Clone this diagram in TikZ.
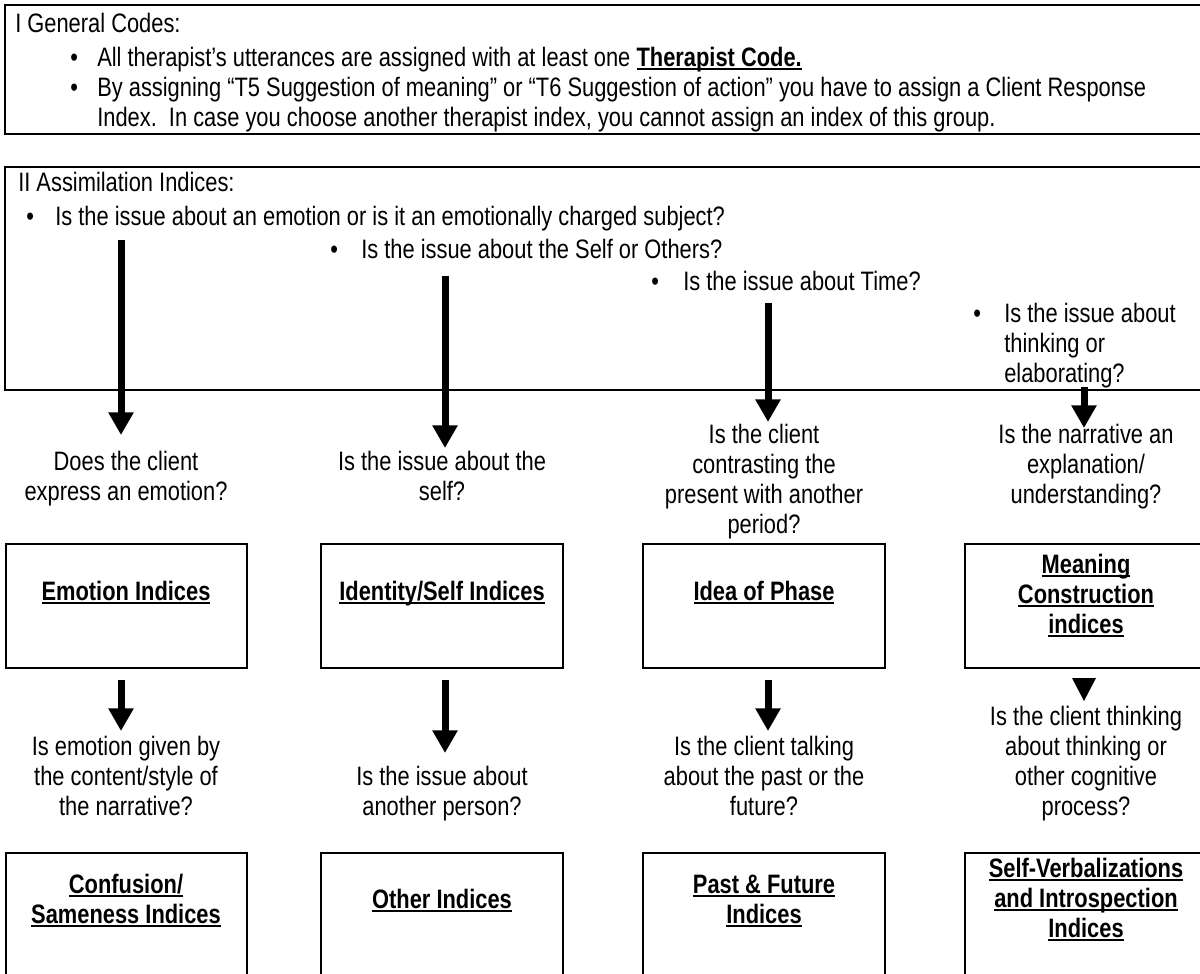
\documentclass[tikz,border=0pt]{standalone}
\usepackage{fontspec}
\setmainfont{Liberation Sans}[FakeStretch=0.82]
\usetikzlibrary{arrows.meta}
\newcommand\uln[1]{\setbox0\hbox{#1}\rlap{\rule[-3pt]{\wd0}{1.5pt}}\box0}
\newcommand\fl{\rule{0pt}{20pt}}
\tikzset{
  frame/.style={draw=black,line width=2pt},
  ibox/.style={draw=black,line width=2pt},
  qt/.style={anchor=north,align=center,inner sep=0pt,font=\fontsize{20pt}{22.5pt}\selectfont},
  lt/.style={anchor=north west,align=left,inner sep=0pt,font=\fontsize{20pt}{22.5pt}\selectfont},
  bt/.style={anchor=north,align=center,inner sep=0pt,font=\fontsize{20pt}{22.5pt}\selectfont\bfseries},
  bigarrow/.style={line width=5.25pt,-{Triangle[width=18pt,length=17pt]}},
  headonly/.style={fill=black}
}
\begin{document}
\begin{tikzpicture}[x=0.75pt,y=-0.75pt]
\useasboundingbox (0,0) rectangle (1200,974);
\clip (0,0) rectangle (1200,974);
% section I
\draw[frame] (5,5) rectangle (1215,134);
\node[lt] (gtitle) at (15,24-18.67) {\fl I General Codes:};
\node[lt] (gb1) at (70,58-18.67) {\fl\textbullet};
\node[lt] (gt1) at (97,58-18.67) {\fl All therapist’s utterances are assigned with at least one \uln{\textbf{Therapist Code.}}};
\node[lt] (gb2) at (70,88-18.67) {\fl\textbullet};
\node[lt] (gt2) at (97,88-18.67) {\fl By assigning “T5 Suggestion of meaning” or “T6 Suggestion of action” you have to assign a Client Response\\Index.\ \ In case you choose another therapist index, you cannot assign an index of this group.};
% section II
\draw[frame] (5,167) rectangle (1215,390);
\node[lt] (atitle) at (18,183-18.67) {\fl II Assimilation Indices:};
\node[lt] (ab1) at (26,217-18.67) {\fl\textbullet};
\node[lt] (at1) at (55,217-18.67) {\fl Is the issue about an emotion or is it an emotionally charged subject?};
\node[lt] (ab2) at (330,250-18.67) {\fl\textbullet};
\node[lt] (at2) at (361,250-18.67) {\fl Is the issue about the Self or Others?};
\node[lt] (ab3) at (651,282-18.67) {\fl\textbullet};
\node[lt] (at3) at (683,282-18.67) {\fl Is the issue about Time?};
\node[lt] (ab4) at (973,314-18.67) {\fl\textbullet};
\node[lt] (at4) at (1004,314-18.67) {\fl Is the issue about\\thinking or\\elaborating?};
% questions above the first row
\node[qt] (q1) at (126,462-18.67) {\fl Does the client\\express an emotion?};
\node[qt] (q2) at (442,462-18.67) {\fl Is the issue about the\\self?};
\node[qt] (q3) at (764,435-18.67) {\fl Is the client\\contrasting the\\present with another\\period?};
\node[qt] (q4) at (1086,435-18.67) {\fl Is the narrative an\\explanation/\\understanding?};
% first row of boxes
\draw[ibox] (6,544) rectangle (247,668);
\draw[ibox] (321,544) rectangle (563,668);
\draw[ibox] (643,544) rectangle (885,668);
\draw[ibox] (965,544) rectangle (1215,668);
\node[bt] (b1) at (126,592-18.67) {\fl\uln{Emotion Indices}};
\node[bt] (b2) at (442,592-18.67) {\fl\uln{Identity/Self Indices}};
\node[bt] (b3) at (764,592-18.67) {\fl\uln{Idea of Phase}};
\node[bt] (b4) at (1086,565-18.67) {\fl\uln{Meaning}\\\uln{Construction}\\\uln{indices}};
% questions below
\node[qt] (q5) at (126,747-18.67) {\fl Is emotion given by\\the content/style of\\the narrative?};
\node[qt] (q6) at (442,777-18.67) {\fl Is the issue about\\another person?};
\node[qt] (q7) at (764,747-18.67) {\fl Is the client talking\\about the past or the\\future?};
\node[qt] (q8) at (1086,717-18.67) {\fl Is the client thinking\\about thinking or\\other cognitive\\process?};
% second row of boxes
\draw[ibox] (6,853) rectangle (247,990);
\draw[ibox] (321,853) rectangle (563,990);
\draw[ibox] (643,853) rectangle (885,990);
\draw[ibox] (965,853) rectangle (1215,990);
\node[bt] (c1) at (126,885-18.67) {\fl\uln{Confusion/}\\\uln{Sameness Indices}};
\node[bt] (c2) at (442,900-18.67) {\fl\uln{Other Indices}};
\node[bt] (c3) at (764,885-18.67) {\fl\uln{Past \& Future}\\\uln{Indices}};
\node[bt] (c4) at (1086,869-18.67) {\fl\uln{Self-Verbalizations}\\\uln{and Introspection}\\\uln{Indices}};
% arrows
\coordinate (s1) at (121,240); \coordinate (e1) at (121,435);
\coordinate (s2) at (445,276); \coordinate (e2) at (445,448);
\coordinate (s3) at (768,303); \coordinate (e3) at (768,422);
\coordinate (s4) at (1084,387); \coordinate (e4) at (1084,428);
\draw[bigarrow] (s1) -- (e1);
\draw[bigarrow] (s2) -- (e2);
\draw[bigarrow] (s3) -- (e3);
\draw[bigarrow] (s4) -- (e4);
\coordinate (s5) at (121,680); \coordinate (e5) at (121,731);
\coordinate (s6) at (445,680); \coordinate (e6) at (445,753);
\coordinate (s7) at (768,680); \coordinate (e7) at (768,731);
\draw[bigarrow] (s5) -- (e5);
\draw[bigarrow] (s6) -- (e6);
\draw[bigarrow] (s7) -- (e7);
\coordinate (t8a) at (1072,678); \coordinate (t8b) at (1096,678); \coordinate (t8c) at (1084,701);
\fill[headonly] (t8a) -- (t8b) -- (t8c) -- cycle;
\end{tikzpicture}
\end{document}
